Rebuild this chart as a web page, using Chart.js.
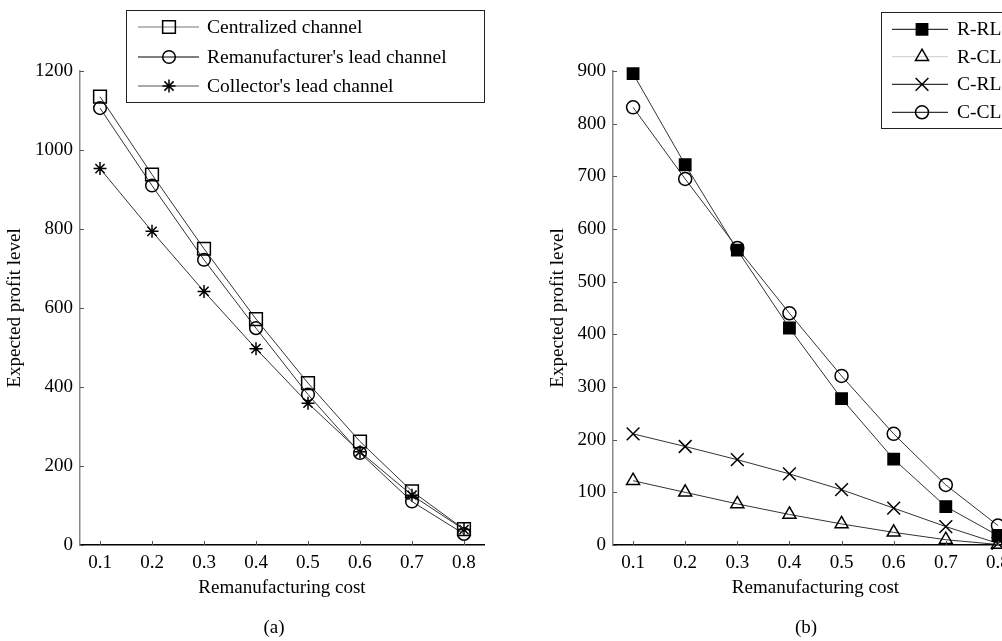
<!DOCTYPE html>
<html>
<head>
<meta charset="utf-8">
<script src="https://cdn.jsdelivr.net/npm/chart.js"></script>
<style>
  html, body { margin: 0; padding: 0; background: #fff; }
  body { width: 1002px; height: 641px; overflow: hidden; position: relative; font-family: "Liberation Serif", "DejaVu Serif", serif; }
  canvas { position: absolute; top: 0; }
  #chartA { left: 0; }
  #chartB { left: 540px; }
  .cap { position: absolute; top: 616px; width: 60px; margin-left: -30px; text-align: center; font-size: 19px; color: #000; }
</style>
</head>
<body>
<canvas id="chartA" width="500" height="641"></canvas>
<canvas id="chartB" width="500" height="641"></canvas>
<div class="cap" style="left:274px">(a)</div>
<div class="cap" style="left:806px">(b)</div>
<script>
// remanufacturing cost (x)
const costs = [0.1, 0.2, 0.3, 0.4, 0.5, 0.6, 0.7, 0.8];
const xTickLabels = ['0.1', '0.2', '0.3', '0.4', '0.5', '0.6', '0.7', '0.8'];

// (a) expected profit by channel
const centralized = [1135, 938, 750, 572, 410, 262, 136, 40];
const remanLead = [1106, 910, 722, 549, 381, 233, 110, 28];
const collectorLead = [953, 794, 642, 497, 359, 236, 126, 39];
const yTicksA = [0, 200, 400, 600, 800, 1000, 1200];

// (b) expected profit by member / channel
const rRL = [895, 722, 560, 412, 278, 163, 73, 18];
const rCL = [122, 100, 78, 58, 40, 24, 10, 1];
const cRL = [211, 187, 162, 135, 105, 70, 35, 3];
const cCL = [831, 695, 564, 440, 321, 211, 114, 37];
const yTicksB = [0, 100, 200, 300, 400, 500, 600, 700, 800, 900];

Chart.defaults.font.family = '"Liberation Serif", "DejaVu Serif", serif';
Chart.defaults.font.size = 19;
Chart.defaults.color = '#000';

const toPoints = (vals) => costs.map((c, i) => ({ x: c, y: vals[i] }));

const series = (label, vals, style, radius, fill) => ({
  label,
  data: toPoints(vals),
  clip: false,
  borderColor: '#333',
  borderWidth: 1,
  tension: 0,
  pointStyle: style,
  pointRadius: radius,
  pointHoverRadius: radius,
  pointBorderColor: '#000',
  pointBorderWidth: 1.5,
  pointBackgroundColor: fill ? '#000' : 'rgba(0,0,0,0)',
});

// ticks pointing into the plot area, like the original
const innerTicks = {
  id: 'innerTicks',
  afterDraw(chart) {
    const { ctx, chartArea, scales: { x, y } } = chart;
    ctx.save();
    ctx.strokeStyle = '#555';
    ctx.lineWidth = 1;
    x.ticks.forEach(t => {
      const px = Math.round(x.getPixelForValue(t.value)) + 0.5;
      ctx.beginPath();
      ctx.moveTo(px, chartArea.bottom);
      ctx.lineTo(px, chartArea.bottom - 4);
      ctx.stroke();
    });
    y.ticks.forEach(t => {
      const py = Math.round(y.getPixelForValue(t.value)) + 0.5;
      ctx.beginPath();
      ctx.moveTo(chartArea.left, py);
      ctx.lineTo(chartArea.left + 4, py);
      ctx.stroke();
    });
    ctx.restore();
  }
};

// boxed legend with line + marker samples
const boxLegend = {
  id: 'boxLegend',
  afterDraw(chart, args, opts) {
    const ctx = chart.ctx;
    ctx.save();
    ctx.fillStyle = '#fff';
    ctx.fillRect(opts.box[0], opts.box[1], opts.box[2] - opts.box[0], opts.box[3] - opts.box[1]);
    ctx.strokeStyle = '#222';
    ctx.lineWidth = 1;
    ctx.strokeRect(opts.box[0] + 0.5, opts.box[1] + 0.5, opts.box[2] - opts.box[0], opts.box[3] - opts.box[1]);
    chart.data.datasets.forEach((ds, i) => {
      const y = opts.rows[i];
      ctx.strokeStyle = opts.lineColors[i];
      ctx.lineWidth = 1;
      ctx.beginPath();
      ctx.moveTo(opts.lineX[0], y);
      ctx.lineTo(opts.lineX[1], y);
      ctx.stroke();
      ctx.fillStyle = ds.pointBackgroundColor;
      ctx.strokeStyle = ds.pointBorderColor;
      ctx.lineWidth = ds.pointBorderWidth;
      Chart.helpers.drawPoint(ctx, {
        pointStyle: ds.pointStyle, radius: ds.pointRadius, borderWidth: ds.pointBorderWidth, rotation: 0
      }, opts.markerX, y);
      ctx.fillStyle = '#000';
      ctx.font = '19.5px "Liberation Serif", serif';
      ctx.textBaseline = 'middle';
      ctx.textAlign = 'left';
      ctx.fillText(ds.label, opts.textX, y + 1);
    });
    ctx.restore();
  }
};

function makeOptions(yMax, yTicks, pad, yWidth, yTitlePad, legend) {
  return {
    responsive: false,
    animation: false,
    events: [],
    layout: { padding: pad },
    plugins: { legend: { display: false }, tooltip: { enabled: false }, boxLegend: legend },
    scales: {
      x: {
        type: 'linear',
        min: 0.0615,
        max: 0.8385,
        afterBuildTicks: s => { s.ticks = costs.map(v => ({ value: v })); },
        afterFit: s => { s.height = 62; },
        ticks: { padding: 7, maxRotation: 0, callback: (v, i) => xTickLabels[i] },
        grid: { drawOnChartArea: false, drawTicks: false },
        border: { color: '#000', width: 1.5 },
        title: { display: true, text: 'Remanufacturing cost', padding: { top: 0, bottom: 8 } }
      },
      y: {
        min: 0,
        max: yMax,
        afterBuildTicks: s => { s.ticks = yTicks.map(v => ({ value: v })); },
        afterFit: s => { s.width = yWidth; },
        ticks: { padding: 7, callback: v => String(v) },
        grid: { drawOnChartArea: false, drawTicks: false },
        border: { color: '#888', width: 1.5 },
        title: { display: true, text: 'Expected profit level', padding: { top: yTitlePad, bottom: yTitlePad } }
      }
    }
  };
}

new Chart(document.getElementById('chartA'), {
  type: 'line',
  data: {
    datasets: [
      series('Centralized channel', centralized, 'rect', 9, false),
      series("Remanufacturer's lead channel", remanLead, 'circle', 6.3, false),
      series("Collector's lead channel", collectorLead, 'star', 6.5, false)
    ]
  },
  options: makeOptions(1200, yTicksA, { left: 0, right: 16, top: 71, bottom: 34 }, 80, 3.6, {
    box: [126, 10, 484, 102],
    rows: [27, 57, 86],
    lineX: [138, 199],
    markerX: 169,
    textX: 207,
    lineColors: ['#777', '#000', '#555']
  }),
  plugins: [innerTicks, boxLegend]
});

new Chart(document.getElementById('chartB'), {
  type: 'line',
  data: {
    datasets: [
      series('R-RL', rRL, 'rect', 8, true),
      series('R-CL', rCL, 'triangle', 7.5, false),
      series('C-RL', cRL, 'crossRot', 9, false),
      series('C-CL', cCL, 'circle', 6.5, false)
    ]
  },
  options: makeOptions(900, yTicksB, { left: 0, right: 22, top: 71, bottom: 34 }, 73, 6.6, {
    box: [341, 12, 480, 128],
    rows: [29.3, 56.7, 84.3, 112.3],
    lineX: [352, 408],
    markerX: 382,
    textX: 417,
    lineColors: ['#000', '#ccc', '#000', '#000']
  }),
  plugins: [innerTicks, boxLegend]
});
</script>
</body>
</html>
